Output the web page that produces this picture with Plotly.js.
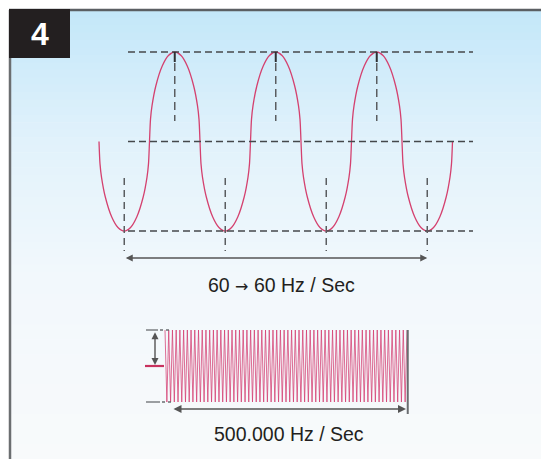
<!DOCTYPE html>
<html>
<head>
<meta charset="utf-8">
<script src="https://cdn.plot.ly/plotly-3.0.1.min.js"></script>
<style>html,body{margin:0;padding:0;background:#fff;}#chart{width:541px;height:459px;}</style>
</head>
<body>
<div id="chart"></div>
<script>
// ---- Data ----
// Slow wave (60 Hz): time in periods, amplitude normalised (rounded, steep-sided wave)
var slowT = [0,0.01,0.025,0.0625,0.125,0.1875,0.25,0.3125,0.375,0.4375,0.475,0.49,
             0.5,0.51,0.525,0.5625,0.625,0.6875,0.75,0.8125,0.875,0.9375,0.975,0.99,
             1,1.01,1.025,1.0625,1.125,1.1875,1.25,1.3125,1.375,1.4375,1.475,1.49,
             1.5,1.51,1.525,1.5625,1.625,1.6875,1.75,1.8125,1.875,1.9375,1.975,1.99,
             2,2.01,2.025,2.0625,2.125,2.1875,2.25,2.3125,2.375,2.4375,2.475,2.49,
             2.5,2.51,2.525,2.5625,2.625,2.6875,2.75,2.8125,2.875,2.9375,2.975,2.99,
             3,3.01,3.025,3.0625,3.125,3.1875,3.25,3.3125,3.375,3.4375,3.475,3.49,3.5];
var slowY = [0,-0.25,-0.40,-0.62,-0.84,-0.96,-1,-0.96,-0.84,-0.62,-0.40,-0.25,
             0,0.25,0.40,0.62,0.84,0.96,1,0.96,0.84,0.62,0.40,0.25,
             0,-0.25,-0.40,-0.62,-0.84,-0.96,-1,-0.96,-0.84,-0.62,-0.40,-0.25,
             0,0.25,0.40,0.62,0.84,0.96,1,0.96,0.84,0.62,0.40,0.25,
             0,-0.25,-0.40,-0.62,-0.84,-0.96,-1,-0.96,-0.84,-0.62,-0.40,-0.25,
             0,0.25,0.40,0.62,0.84,0.96,1,0.96,0.84,0.62,0.40,0.25,
             0,-0.25,-0.40,-0.62,-0.84,-0.96,-1,-0.96,-0.84,-0.62,-0.40,-0.25,0];
var peakT = [0.75, 1.75, 2.75];
var troughT = [0.25, 1.25, 2.25, 3.25];
// Fast wave (500.000 Hz): alternating extremes of each stroke
var fastY = [1,-1,1,-1,1,-1,1,-1,1,-1,1,-1,1,-1,1,-1,1,-1,1,-1,1,-1,1,-1,1,-1,1,-1,1,-1,
             1,-1,1,-1,1,-1,1,-1,1,-1,1,-1,1,-1,1,-1,1,-1,1,-1,1,-1,1,-1,1,-1,1,-1,1,-1,
             1,-1,1,-1,1,-1,1,-1,1,-1,1,-1,1,-1,1,-1,1,-1,1,-1,1,-1,1,-1,1,-1,1,-1,1,-1,
             1,-1,1,-1,1,-1,1,-1,1,-1,1,-1,1,-1,1,-1,1,-1,1,-1,1,-1,1,-1,1,-1,1,-1,1,-1,
             1,-1,1,-1,1,-1,1,-1,1,-1,1];
var fastX = fastY.map(function(_, i){ return i; });
var labelSlow = '60 <span style="font-family:DejaVu Sans;font-size:16px">→</span> 60 Hz / Sec';
var labelFast = '500.000 Hz / Sec';
var badgeText = '4';

// ---- Layout geometry (pixels of the 541x459 page) ----
var W = 541, H = 459;
function PX(x){ return x / W; }
function PY(y){ return 1 - y / H; }
// slow axes: px = 99 + 101*t ; py = 141.5 - 89.5*y
var sx0 = 99, sper = 101, sy0 = 141.5, samp = 89.5;
function tOf(px){ return (px - sx0) / sper; }
function yOf(py){ return (sy0 - py) / samp; }
// fast axes: px = 165 + step*i ; py = 366 - 36*v
var fx0 = 165, fstep = 242 / (fastY.length - 1), fy0 = 366, famp = 36;
function iOf(px){ return (px - fx0) / fstep; }
function vOf(py){ return (fy0 - py) / famp; }

var shapes = [];
// background gradient strips
var stops = [[0,[195,231,249]],[0.3,[226,242,251]],[0.6,[242,248,252]],[1,[248,250,251]]];
function colAt(f){
  for (var k=1;k<stops.length;k++){
    if (f <= stops[k][0]){
      var a = stops[k-1], b = stops[k], u = (f - a[0])/(b[0]-a[0]);
      var c = a[1].map(function(v,j){ return Math.round(v + (b[1][j]-v)*u); });
      return 'rgb('+c.join(',')+')';
    }
  }
  return 'rgb(248,250,251)';
}
var N = 60, top0 = 10, bot0 = H;
for (var s=0;s<N;s++){
  var ya = top0 + (bot0-top0)*s/N, yb = top0 + (bot0-top0)*(s+1)/N + 0.6;
  shapes.push({type:'rect', xref:'paper', yref:'paper', x0:PX(10), x1:1, y0:PY(yb), y1:PY(ya),
    fillcolor: colAt((s+0.5)/N), line:{width:0}, layer:'below'});
}
// frame
shapes.push({type:'line', xref:'paper', yref:'paper', x0:PX(9), x1:1, y0:PY(10), y1:PY(10), line:{color:'#5b5f63', width:2.5}});
shapes.push({type:'line', xref:'paper', yref:'paper', x0:PX(10), x1:PX(10), y0:PY(10), y1:0, line:{color:'#6b6e70', width:2.5}});
// badge
shapes.push({type:'rect', xref:'paper', yref:'paper', x0:PX(9), x1:PX(70), y0:PY(58), y1:PY(9), fillcolor:'#231f20', line:{width:0}});

// slow-wave guides
var dashCol = '#45484b';
[1, 0, -1].forEach(function(v){
  shapes.push({type:'line', xref:'x', yref:'y', x0:tOf(128), x1:tOf(473), y0:v, y1:v,
    line:{color:dashCol, width:1.6, dash:'7px,4px'}});
});
peakT.forEach(function(t){
  shapes.push({type:'line', xref:'x', yref:'y', x0:t, x1:t, y0:yOf(63), y1:yOf(121),
    line:{color:'#5a5d60', width:1.5, dash:'8px,5px'}});
  shapes.push({type:'line', xref:'x', yref:'y', x0:t, x1:t, y0:1, y1:yOf(62),
    line:{color:'#2e3033', width:2}});
});
troughT.forEach(function(t){
  shapes.push({type:'line', xref:'x', yref:'y', x0:t, x1:t, y0:yOf(178), y1:yOf(251),
    line:{color:'#5a5d60', width:1.5, dash:'7px,5px'}});
});

// fast-wave guides
shapes.push({type:'line', xref:'x2', yref:'y2', x0:iOf(146), x1:iOf(158), y0:1, y1:1, line:{color:'#6a6d70', width:1.3}});
shapes.push({type:'line', xref:'x2', yref:'y2', x0:iOf(160), x1:iOf(170), y0:1, y1:1, line:{color:'#6a6d70', width:1.3, dash:'3px,3px'}});
shapes.push({type:'line', xref:'x2', yref:'y2', x0:iOf(146), x1:iOf(160), y0:-1, y1:-1, line:{color:'#6a6d70', width:1.3}});
shapes.push({type:'line', xref:'x2', yref:'y2', x0:iOf(162), x1:iOf(171), y0:-1, y1:-1, line:{color:'#6a6d70', width:1.3, dash:'3px,3px'}});
shapes.push({type:'line', xref:'x2', yref:'y2', x0:iOf(145), x1:iOf(164), y0:0, y1:0, line:{color:'#c8325f', width:2.2}});
shapes.push({type:'line', xref:'x2', yref:'y2', x0:fastX[fastX.length-1]+0.4, x1:fastX[fastX.length-1]+0.4, y0:1, y1:vOf(414), line:{color:'#6a6d70', width:2}});

var annotations = [
  {xref:'x', yref:'y', axref:'x', ayref:'y', x:troughT[troughT.length-1], y:yOf(258), ax:troughT[0], ay:yOf(258),
   text:'', showarrow:true, arrowside:'end+start', arrowhead:2, arrowsize:1, arrowwidth:1.4, arrowcolor:'#555', standoff:0, startstandoff:0},
  {xref:'x2', yref:'y2', axref:'x2', ayref:'y2', x:iOf(155), y:0.03, ax:iOf(155), ay:0.98,
   text:'', showarrow:true, arrowside:'end+start', arrowhead:2, arrowsize:1, arrowwidth:1.4, arrowcolor:'#555', standoff:0, startstandoff:0},
  {xref:'x2', yref:'y2', axref:'x2', ayref:'y2', x:iOf(406), y:vOf(409), ax:iOf(172), ay:vOf(409),
   text:'', showarrow:true, arrowside:'end+start', arrowhead:2, arrowsize:1, arrowwidth:1.6, arrowcolor:'#555', standoff:0, startstandoff:0},
  {xref:'paper', yref:'paper', x:PX(281), y:PY(285), text:labelSlow, showarrow:false,
   font:{family:'Liberation Sans, Arial, sans-serif', size:19.5, color:'#231f20'}, xanchor:'center', yanchor:'middle'},
  {xref:'paper', yref:'paper', x:PX(289), y:PY(434), text:labelFast, showarrow:false,
   font:{family:'Liberation Sans, Arial, sans-serif', size:19.5, color:'#231f20'}, xanchor:'center', yanchor:'middle'},
  {xref:'paper', yref:'paper', x:PX(40), y:PY(34), text:'<b>'+badgeText+'</b>', showarrow:false,
   font:{family:'Liberation Sans, Arial, sans-serif', size:32, color:'#ffffff'}, xanchor:'center', yanchor:'middle'}
];

var traces = [
  {x: slowT, y: slowY, xaxis:'x', yaxis:'y', type:'scatter', mode:'lines',
   line:{color:'#d4416f', width:1.3, shape:'spline', smoothing:0.8}, hoverinfo:'skip'},
  {x: fastX, y: fastY, xaxis:'x2', yaxis:'y2', type:'scatter', mode:'lines',
   line:{color:'rgba(212,60,112,0.88)', width:0.85}, hoverinfo:'skip'}
];

var layout = {
  width: W, height: H,
  margin:{l:0, r:0, t:0, b:0, pad:0},
  paper_bgcolor:'#ffffff', plot_bgcolor:'rgba(0,0,0,0)',
  showlegend:false,
  xaxis:{domain:[0,1], range:[tOf(0), tOf(W)], visible:false, fixedrange:true},
  yaxis:{domain:[0,1], range:[yOf(H), yOf(0)], visible:false, fixedrange:true},
  xaxis2:{domain:[0,1], range:[iOf(0), iOf(W)], visible:false, overlaying:'x', anchor:'y2', fixedrange:true},
  yaxis2:{domain:[0,1], range:[vOf(H), vOf(0)], visible:false, overlaying:'y', anchor:'x2', fixedrange:true},
  shapes: shapes,
  annotations: annotations
};

Plotly.newPlot('chart', traces, layout, {staticPlot:true, displayModeBar:false});
</script>
</body>
</html>
